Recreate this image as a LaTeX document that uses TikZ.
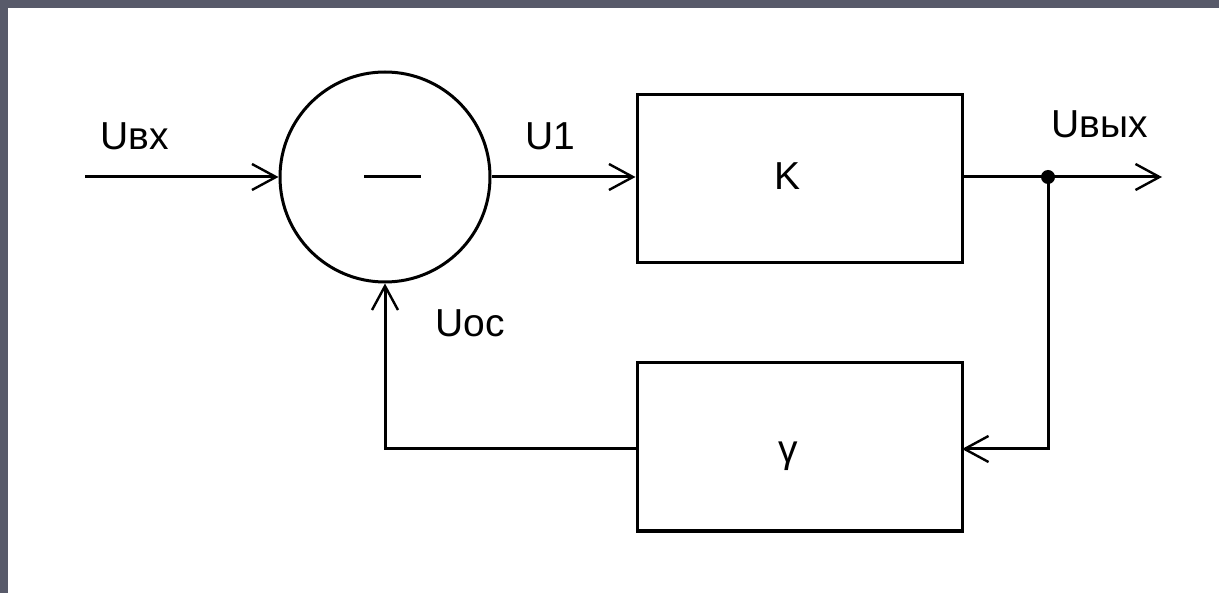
\documentclass[tikz,border=0pt]{standalone}
\usepackage{fontspec}
\setmainfont{Liberation Sans}
\usetikzlibrary{arrows.meta}
\definecolor{frame}{HTML}{585A6A}
\tikzset{
  wire/.style={line width=3pt, line cap=butt},
  arr/.style={wire, -{Straight Barb[length=24pt,width=26pt,line width=2.4pt]}},
  blk/.style={draw, line width=3pt, minimum width=325pt, minimum height=168pt, inner sep=0pt},
  lbl/.style={font=\fontsize{39}{42}\selectfont, inner sep=0pt},
  dotnode/.style={circle, fill, minimum size=14pt, inner sep=0pt}
}
\begin{document}
\begin{tikzpicture}[x=1pt,y=-1pt]
\useasboundingbox (0,0) rectangle (1219,593);
\fill[frame] (0,0) rectangle (1219,593);
\fill[white] (8,8) rectangle (1219,593);
% summing junction
\node[draw, circle, line width=3pt, minimum size=210pt, inner sep=0pt] (sum) at (385,177) {};
\coordinate (m1) at (364,177);
\coordinate (m2) at (421,177);
\draw[wire] (m1) -- (m2);
% blocks
\node[blk] (K) at (799.5,179) {};
\node[blk] (G) at (799.5,447) {};
\node[lbl] (Ktxt) at (787,176) {K};
\node[lbl] (Gtxt) at (788,456) {γ};
% coordinates
\coordinate (in) at (85,177);
\coordinate (out) at (1162,177);
\coordinate (gin) at (962,449);
\node[dotnode] (j) at (1048,177) {};
% connectors
\draw[arr] (in) -- (sum.west);
\draw[arr] (sum.east) -- (K.west |- sum.east);
\draw[arr] (K.east |- j) -- (out);
\draw[arr] (j.center) |- (gin);
\draw[arr] (G.west |- gin) -| (sum.south);
% labels
\node[lbl] (Uin) at (135,136) {Uвх};
\node[lbl] (U1) at (550,136) {U1};
\node[lbl] (Uout) at (1100,124) {Uвых};
\node[lbl] (Uoc) at (470,323) {Uoc};
\end{tikzpicture}
\end{document}
